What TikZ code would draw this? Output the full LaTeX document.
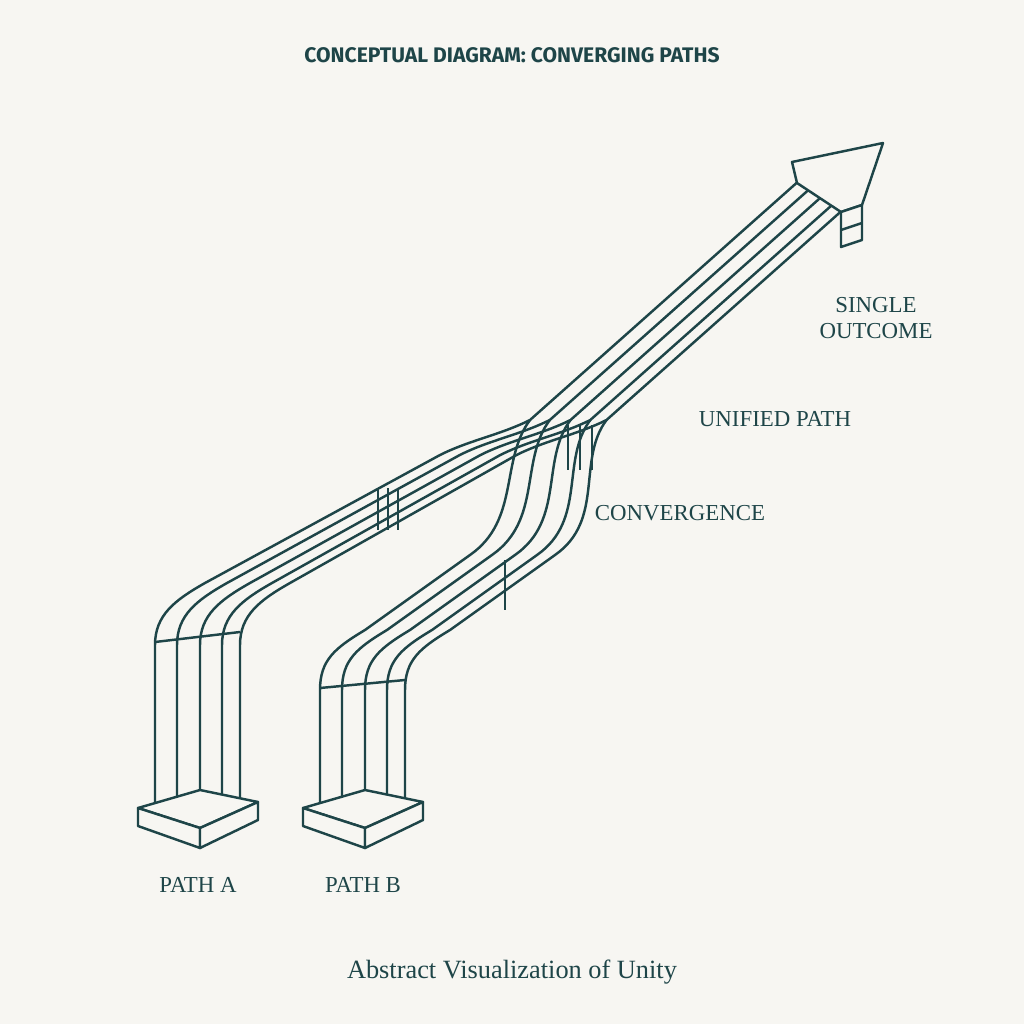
\documentclass[tikz,border=0pt]{standalone}
\usepackage{fontspec}
\setmainfont{Liberation Serif}
\newfontfamily\titlefont{Fira Sans}
\definecolor{ink}{HTML}{1E4548}
\definecolor{paper}{HTML}{F7F6F2}
\begin{document}
\begin{tikzpicture}[x=0.02cm,y=-0.02cm,
    strip/.style={draw=ink, line width=1.4pt, line join=round},
    slab/.style={draw=ink, line width=1.4pt, fill=paper, line join=round},
    label/.style={text=ink, font=\fontsize{13}{15}\selectfont},
    title/.style={text=ink, font=\titlefont\bfseries\fontsize{12}{14}\selectfont}
  ]
  \fill[paper] (0,0) rectangle (1024,1024);

  % path A
  \foreach \d in {0,22,45,67,85}{
    \pgfmathsetmacro\u{1.054-0.0015*\d}
    \draw[strip] (155+\d,805) -- (155+\d,645)
      .. controls (155+\d,615) and (175+\d,600) .. (205+\d,583)
      -- (440+0.9*\d,455)
      .. controls (470+0.9*\d,440) and (500+0.9*\d,435) .. (530+0.9*\d,420)
      -- (530+0.9*\d+253*\u,420-225*\u);
  }
  % path B
  \foreach \d in {0,22,45,67,85}{
    \draw[strip] (320+\d,805) -- (320+\d,690)
      .. controls (320+\d,660) and (335+\d,648) .. (365+\d,630)
      -- (470+\d,555)
      .. controls (520+\d,520) and (500+0.9*\d,460) .. (530+0.9*\d,420);
  }
  % cross marks
  \foreach \x in {378,388,398}{ \draw[strip] (\x,488) -- (\x,530); }
  \foreach \x in {568,580,592}{ \draw[strip] (\x,425) -- (\x,470); }
  \draw[strip] (155,642) -- (240,632);
  \draw[strip] (320,688) -- (405,680);
  \draw[strip] (505,560) -- (505,610);

  % pedestals
  \foreach \px/\nm in {138/pa,303/pb}{
    \draw[slab] (\px,808) -- (\px+62,790) -- (\px+120,802) -- (\px+62,828) -- cycle;
    \draw[slab] (\px,808) -- (\px+62,828) -- (\px+62,848) -- (\px,826) -- cycle;
    \draw[slab] (\px+62,828) -- (\px+120,802) -- (\px+120,820) -- (\px+62,848) -- cycle;
    \coordinate (\nm) at (\px+60,885);
  }

  % arrow head and end block
  \draw[slab] (797,183) -- (792,162) -- (883,143) -- (862,205) -- (841,212) -- cycle;
  \draw[slab] (841,212) -- (862,205) -- (862,240) -- (841,247) -- cycle;
  \draw[strip] (841,230) -- (862,223);

  % labels
  \node[title] (ttl) at (512,55) {CONCEPTUAL DIAGRAM: CONVERGING PATHS};
  \node[label, align=center] (out) at (876,318) {SINGLE\\OUTCOME};
  \node[label] (uni) at (775,419) {UNIFIED PATH};
  \node[label] (conv) at (680,513) {CONVERGENCE};
  \node[label] (la) at (pa) {PATH A};
  \node[label] (lb) at (pb) {PATH B};
  \node[label, font=\fontsize{15}{17}\selectfont] (cap) at (512,972) {Abstract Visualization of Unity};
\end{tikzpicture}
\end{document}
